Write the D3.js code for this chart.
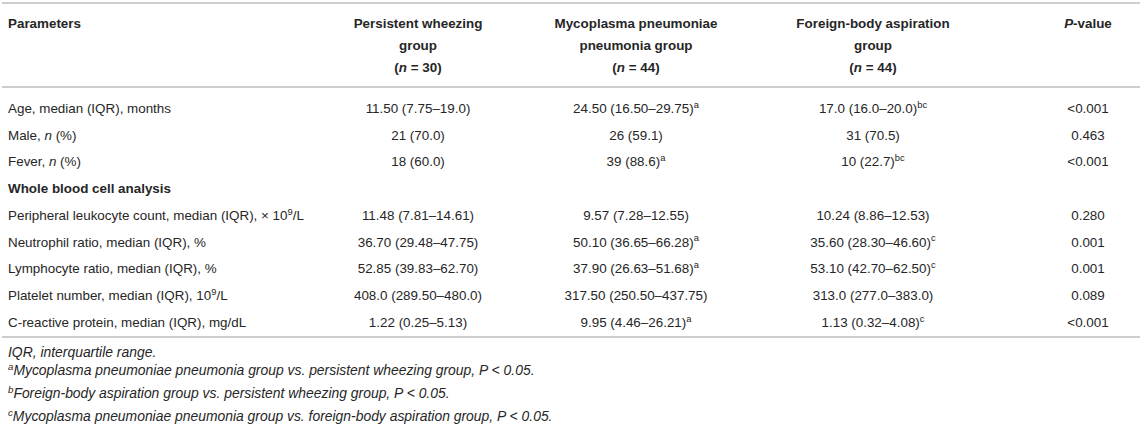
<!DOCTYPE html>
<html>
<head>
<meta charset="utf-8">
<script src="https://cdn.jsdelivr.net/npm/d3@7"></script>
<style>
  body { margin: 0; background: #fff; }
  svg text { font-family: "Liberation Sans", Arial, sans-serif; fill: #262626; }
</style>
</head>
<body>
<div id="table"></div>
<script>
var width = 1142,
    height = 429;

// header cells, one entry per line; _x_ italic, ^x^ superscript
var headers = [
  ["Parameters"],
  ["Persistent wheezing", "group", "(_n_ = 30)"],
  ["Mycoplasma pneumoniae", "pneumonia group", "(_n_ = 44)"],
  ["Foreign-body aspiration", "group", "(_n_ = 44)"],
  ["_P_-value"]
];

var parameters = [
  "Age, median (IQR), months",
  "Male, _n_ (%)",
  "Fever, _n_ (%)",
  "Whole blood cell analysis",
  "Peripheral leukocyte count, median (IQR), × 10^9^/L",
  "Neutrophil ratio, median (IQR), %",
  "Lymphocyte ratio, median (IQR), %",
  "Platelet number, median (IQR), 10^9^/L",
  "C-reactive protein, median (IQR), mg/dL"
];
var sectionRows = [3];

var wheezing = ["11.50 (7.75–19.0)", "21 (70.0)", "18 (60.0)", "", "11.48 (7.81–14.61)",
  "36.70 (29.48–47.75)", "52.85 (39.83–62.70)", "408.0 (289.50–480.0)", "1.22 (0.25–5.13)"];
var mycoplasma = ["24.50 (16.50–29.75)^a^", "26 (59.1)", "39 (88.6)^a^", "", "9.57 (7.28–12.55)",
  "50.10 (36.65–66.28)^a^", "37.90 (26.63–51.68)^a^", "317.50 (250.50–437.75)", "9.95 (4.46–26.21)^a^"];
var foreignBody = ["17.0 (16.0–20.0)^bc^", "31 (70.5)", "10 (22.7)^bc^", "", "10.24 (8.86–12.53)",
  "35.60 (28.30–46.60)^c^", "53.10 (42.70–62.50)^c^", "313.0 (277.0–383.0)", "1.13 (0.32–4.08)^c^"];
var pValues = ["<0.001", "0.463", "<0.001", "", "0.280", "0.001", "0.001", "0.089", "<0.001"];

var footnotes = [
  "IQR, interquartile range.",
  "^a^Mycoplasma pneumoniae pneumonia group vs. persistent wheezing group, P < 0.05.",
  "^b^Foreign-body aspiration group vs. persistent wheezing group, P < 0.05.",
  "^c^Mycoplasma pneumoniae pneumonia group vs. foreign-body aspiration group, P < 0.05."
];

var columns = [parameters, wheezing, mycoplasma, foreignBody, pValues];

var svg = d3.select("#table").append("svg")
    .attr("width", width)
    .attr("height", height);

var x = d3.scaleOrdinal()
    .domain(d3.range(5))
    .range([8, 418, 636, 873, 1088]);

var yHead = d3.scalePoint().domain(d3.range(3)).range([23, 67]);
var y = d3.scalePoint().domain(d3.range(parameters.length)).range([108, 322]);
var yFoot = d3.scalePoint().domain(d3.range(footnotes.length)).range([352, 421]);

var rules = [3, 87, 337];
svg.selectAll("line.rule")
    .data(rules)
    .enter()
    .append("line")
    .attr("class", "rule")
    .attr("x1", 2)
    .attr("x2", width - 2)
    .attr("y1", function (d) { return d; })
    .attr("y2", function (d) { return d; })
    .attr("stroke", "#bcbcbc")
    .attr("stroke-width", 1.6);

// write a marked-up string as tspans
function rich(sel, str, size) {
  var parts = str.split(/(_[^_]+_|\^[^\^]+\^)/).filter(function (p) { return p.length; });
  var raised = false;
  parts.forEach(function (p) {
    var t = sel.append("tspan");
    if (p[0] === "^") {
      t.text(p.slice(1, -1)).attr("font-size", size * 0.7).attr("dy", raised ? 0 : -size * 0.38);
      raised = true;
    } else {
      if (raised) { t.attr("dy", size * 0.38); raised = false; }
      if (p[0] === "_") t.text(p.slice(1, -1)).attr("font-style", "italic");
      else t.text(p);
    }
  });
}

var fs = 13.4,
    fsNote = 13.9;

headers.forEach(function (lines, c) {
  lines.forEach(function (line, i) {
    var t = svg.append("text")
        .attr("x", x(c))
        .attr("y", yHead(i))
        .attr("dy", "0.36em")
        .attr("font-size", fs)
        .attr("font-weight", "bold")
        .attr("text-anchor", c === 0 ? "start" : "middle");
    rich(t, line, fs);
  });
});

columns.forEach(function (col, c) {
  col.forEach(function (val, r) {
    if (!val) return;
    var t = svg.append("text")
        .attr("x", x(c))
        .attr("y", y(r))
        .attr("dy", "0.36em")
        .attr("font-size", fs)
        .attr("font-weight", sectionRows.indexOf(r) >= 0 ? "bold" : "normal")
        .attr("text-anchor", c === 0 ? "start" : "middle");
    rich(t, val, fs);
  });
});

footnotes.forEach(function (note, i) {
  var t = svg.append("text")
      .attr("x", 8)
      .attr("y", yFoot(i))
      .attr("dy", "0.36em")
      .attr("font-size", fsNote)
      .attr("font-style", "italic");
  rich(t, note, fsNote);
});
</script>
</body>
</html>
